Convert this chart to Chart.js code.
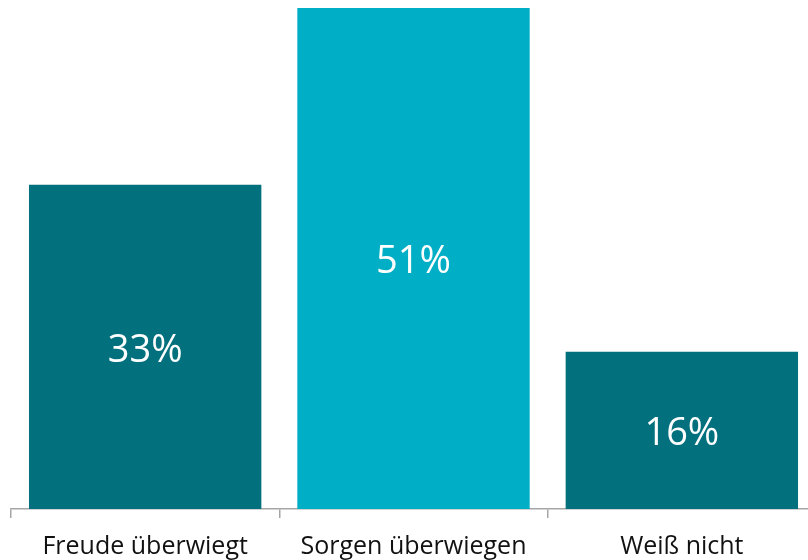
<!DOCTYPE html>
<html>
<head>
<meta charset="utf-8">
<script src="https://cdn.jsdelivr.net/npm/chart.js@4"></script>
<style>
html,body{margin:0;padding:0;background:#fff;overflow:hidden;}
#wrap{position:absolute;left:0;top:0;width:816px;height:585px;}
</style>
</head>
<body>
<div id="wrap"><canvas id="c"></canvas></div>
<script>
const categories = ["Freude überwiegt", "Sorgen überwiegen", "Weiß nicht"];
const values = [33, 51, 16];
const valueLabels = ["33%", "51%", "16%"];
const barColors = ["#03707D", "#00AEC6", "#03707D"];

const labelPlugin = {
  id: 'valueLabels',
  afterDatasetsDraw(chart) {
    const ctx = chart.ctx;
    const meta = chart.getDatasetMeta(0);
    ctx.save();
    ctx.fillStyle = '#ffffff';
    ctx.font = '38px "Open Sans"';
    ctx.textAlign = 'center';
    ctx.textBaseline = 'middle';
    meta.data.forEach((bar, i) => {
      const y = (bar.y + bar.base) / 2 + 4;
      ctx.fillText(valueLabels[i], bar.x, y);
    });
    ctx.restore();
  }
};

new Chart(document.getElementById('c'), {
  type: 'bar',
  data: {
    labels: categories,
    datasets: [{
      data: values,
      backgroundColor: barColors,
      barPercentage: 0.866,
      categoryPercentage: 1.0
    }]
  },
  options: {
    responsive: true,
    maintainAspectRatio: false,
    animation: false,
    layout: { padding: { left: 11, top: 8, right: 0, bottom: 0 } },
    plugins: { legend: { display: false }, tooltip: { enabled: false } },
    scales: {
      y: { display: false, min: 0, max: 51 },
      x: {
        afterFit(scale) { scale.height = 76; },
        grid: { display: true, drawOnChartArea: false, offset: true, tickLength: 9, color: '#A6A6A6', lineWidth: 1.5 },
        border: { display: true, color: '#A6A6A6', width: 1.5 },
        ticks: { color: '#111111', font: { family: 'Open Sans', size: 25 }, padding: 14, maxRotation: 0, autoSkip: false }
      }
    }
  },
  plugins: [labelPlugin]
});
</script>
</body>
</html>
